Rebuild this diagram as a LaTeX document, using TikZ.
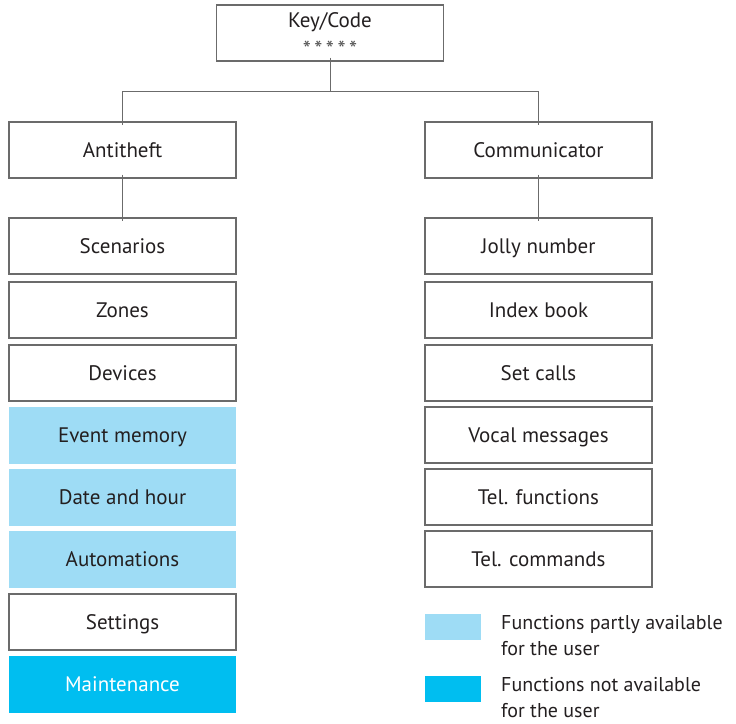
\documentclass[tikz,border=0pt]{standalone}
\usepackage{fontspec}
\setmainfont{PT Sans}
\definecolor{txt}{HTML}{231F20}
\definecolor{edge}{HTML}{6B6B6B}
\definecolor{partly}{HTML}{9EDCF5}
\definecolor{notav}{HTML}{00BEF0}
\begin{document}
\begin{tikzpicture}[x=1pt,y=-1pt,
  box/.style={draw=edge,line width=1.1pt,minimum width=227pt,minimum height=56pt,inner sep=0pt,text height=16pt,text depth=2pt,font=\fontsize{21}{23}\selectfont,text=txt},
  pbox/.style={box,draw=none,fill=partly,minimum width=227pt,minimum height=57pt},
  nbox/.style={box,draw=none,fill=notav,text=white,minimum width=227pt,minimum height=57pt},
  conn/.style={draw=edge,line width=0.8pt},
  lbl/.style={inner sep=0pt,text=txt,font=\fontsize{21}{23}\selectfont,anchor=base},
  leg/.style={anchor=west,align=left,font=\fontsize{20}{26}\selectfont,text=txt,inner sep=0pt}]
\useasboundingbox (0,0) rectangle (736,723);
\node[box] (key) at (330,33) {};
\node[lbl] (keylbl) at (330,27) {Key/Code};
\node[lbl,font=\fontsize{23}{23}\selectfont,text=edge!80!black] (keystars) at (330,57) {*\hspace{3.5pt}*\hspace{3.5pt}*\hspace{3.5pt}*\hspace{3.5pt}*};
\node[box] (anti) at (122.5,150) {Antitheft};
\node[box] (comm) at (538.5,150) {Communicator};
\node[box] (scen) at (122.5,246) {Scenarios};
\node[box] (zone) at (122.5,310) {Zones};
\node[box] (dev) at (122.5,373) {Devices};
\node[pbox] (ev) at (122.5,435) {Event memory};
\node[pbox] (date) at (122.5,497) {Date and hour};
\node[pbox] (auto) at (122.5,559) {Automations};
\node[box] (set) at (122.5,622) {Settings};
\node[nbox] (maint) at (122.5,684) {Maintenance};
\node[box] (jolly) at (538.5,246) {Jolly number};
\node[box] (index) at (538.5,310) {Index book};
\node[box] (calls) at (538.5,373) {Set calls};
\node[box] (vocal) at (538.5,435) {Vocal messages};
\node[box] (telf) at (538.5,497) {Tel. functions};
\node[box] (telc) at (538.5,559) {Tel. commands};
\node[fill=partly,minimum width=56pt,minimum height=26pt,inner sep=0pt] (lp) at (453,627) {};
\node[fill=notav,minimum width=56pt,minimum height=26pt,inner sep=0pt] (ln) at (453,689) {};
\node[leg] (lpt) at (501,636) {Functions partly available\\for the user};
\node[leg] (lnt) at (501,698) {Functions not available\\for the user};
\coordinate (hub) at (330,91);
\draw[conn] ([yshift=4pt]key.south) -- (hub);
\draw[conn] (hub) -| ([yshift=-4pt]anti.north);
\draw[conn] (hub) -| ([yshift=-4pt]comm.north);
\draw[conn] ([yshift=4pt]anti.south) -- ([yshift=-4pt]scen.north);
\draw[conn] ([yshift=4pt]comm.south) -- ([yshift=-4pt]jolly.north);
\end{tikzpicture}
\end{document}
